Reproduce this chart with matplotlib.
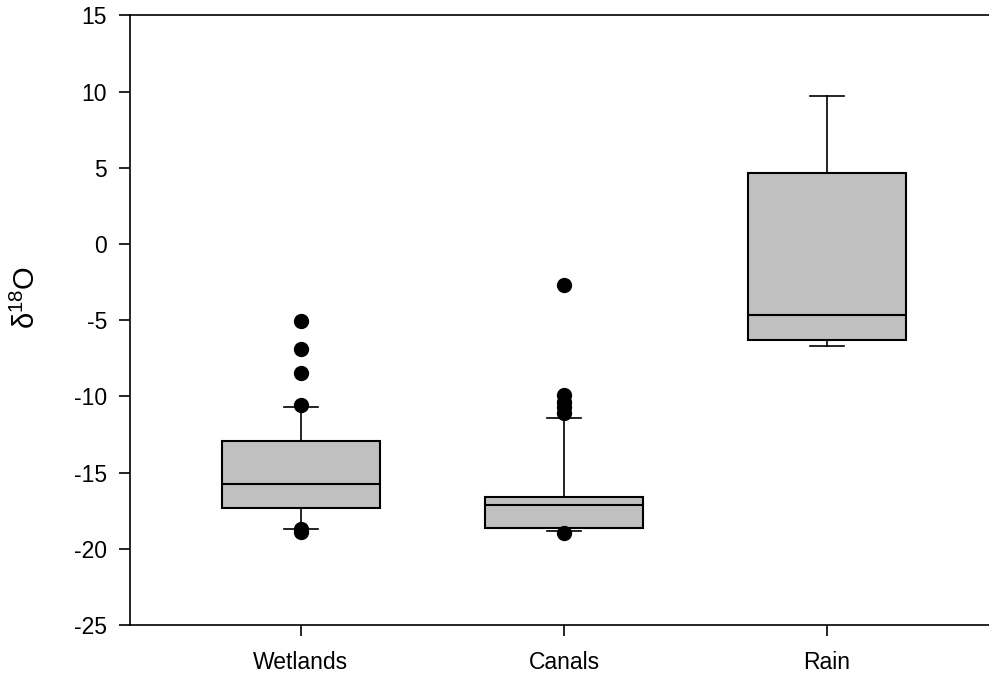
import matplotlib
matplotlib.use("Agg")
import matplotlib.pyplot as plt

plt.rcParams['font.family'] = ['Liberation Sans', 'DejaVu Sans']
plt.rcParams['mathtext.fontset'] = 'custom'
plt.rcParams['mathtext.rm'] = 'Liberation Sans'
plt.rcParams['mathtext.it'] = 'Liberation Sans:italic'

# ---- data ----
categories = ["Wetlands", "Canals", "Rain"]
whisker_low = [-18.70, -18.86, -6.69]
q1 = [-17.33, -18.64, -6.29]
median = [-15.75, -17.10, -4.63]
q3 = [-12.92, -16.59, 4.68]
whisker_high = [-10.73, -11.43, 9.71]
fliers_wetlands = [-5.05, -6.86, -8.44, -10.56, -18.73, -18.90]
fliers_canals = [-2.69, -9.90, -10.34, -10.70, -11.06, -18.99]
fliers_rain = []
fliers = [fliers_wetlands, fliers_canals, fliers_rain]
y_ticks = [-25, -20, -15, -10, -5, 0, 5, 10, 15]

stats = []
for i, name in enumerate(categories):
    stats.append(dict(label=name, whislo=whisker_low[i], q1=q1[i], med=median[i],
                      q3=q3[i], whishi=whisker_high[i], fliers=fliers[i]))

fig = plt.figure(figsize=(9.89, 6.77), dpi=100)
ax = fig.add_axes([130/989, 52/677, 1 - 130/989, (625 - 15.3)/677])

positions = [1, 2, 3]
ax.bxp(stats, positions=positions, widths=0.6, capwidths=0.13,
       patch_artist=True, showfliers=True,
       boxprops=dict(facecolor='#c0c0c0', edgecolor='black', linewidth=1.5),
       medianprops=dict(color='black', linewidth=1.5),
       whiskerprops=dict(color='black', linewidth=1.2),
       capprops=dict(color='black', linewidth=1.2),
       flierprops=dict(marker='o', markerfacecolor='black', markeredgecolor='black',
                       markersize=10, linestyle='none'))

ax.set_xlim(0.35, 3.616)
ax.set_ylim(-25, 15)
ax.set_yticks(y_ticks)
ax.set_yticklabels([str(t) for t in y_ticks])
ax.set_xticks(positions)
ax.set_xticklabels(categories)

for side in ['top', 'bottom', 'left']:
    ax.spines[side].set_linewidth(1.2)
    ax.spines[side].set_color('black')
ax.spines['right'].set_visible(False)

ax.tick_params(axis='y', direction='out', length=8, width=1.2, pad=8.5, labelsize=16.5, right=False)
ax.tick_params(axis='x', direction='out', length=8, width=1.2, pad=10.5, labelsize=16.5, top=False)

fig.text(26/989, 1 - 297.5/677, r'$\mathregular{\delta^{18}O}$', rotation=90,
         ha='center', va='center', fontsize=21)

fig.savefig("out.png", dpi=100)
